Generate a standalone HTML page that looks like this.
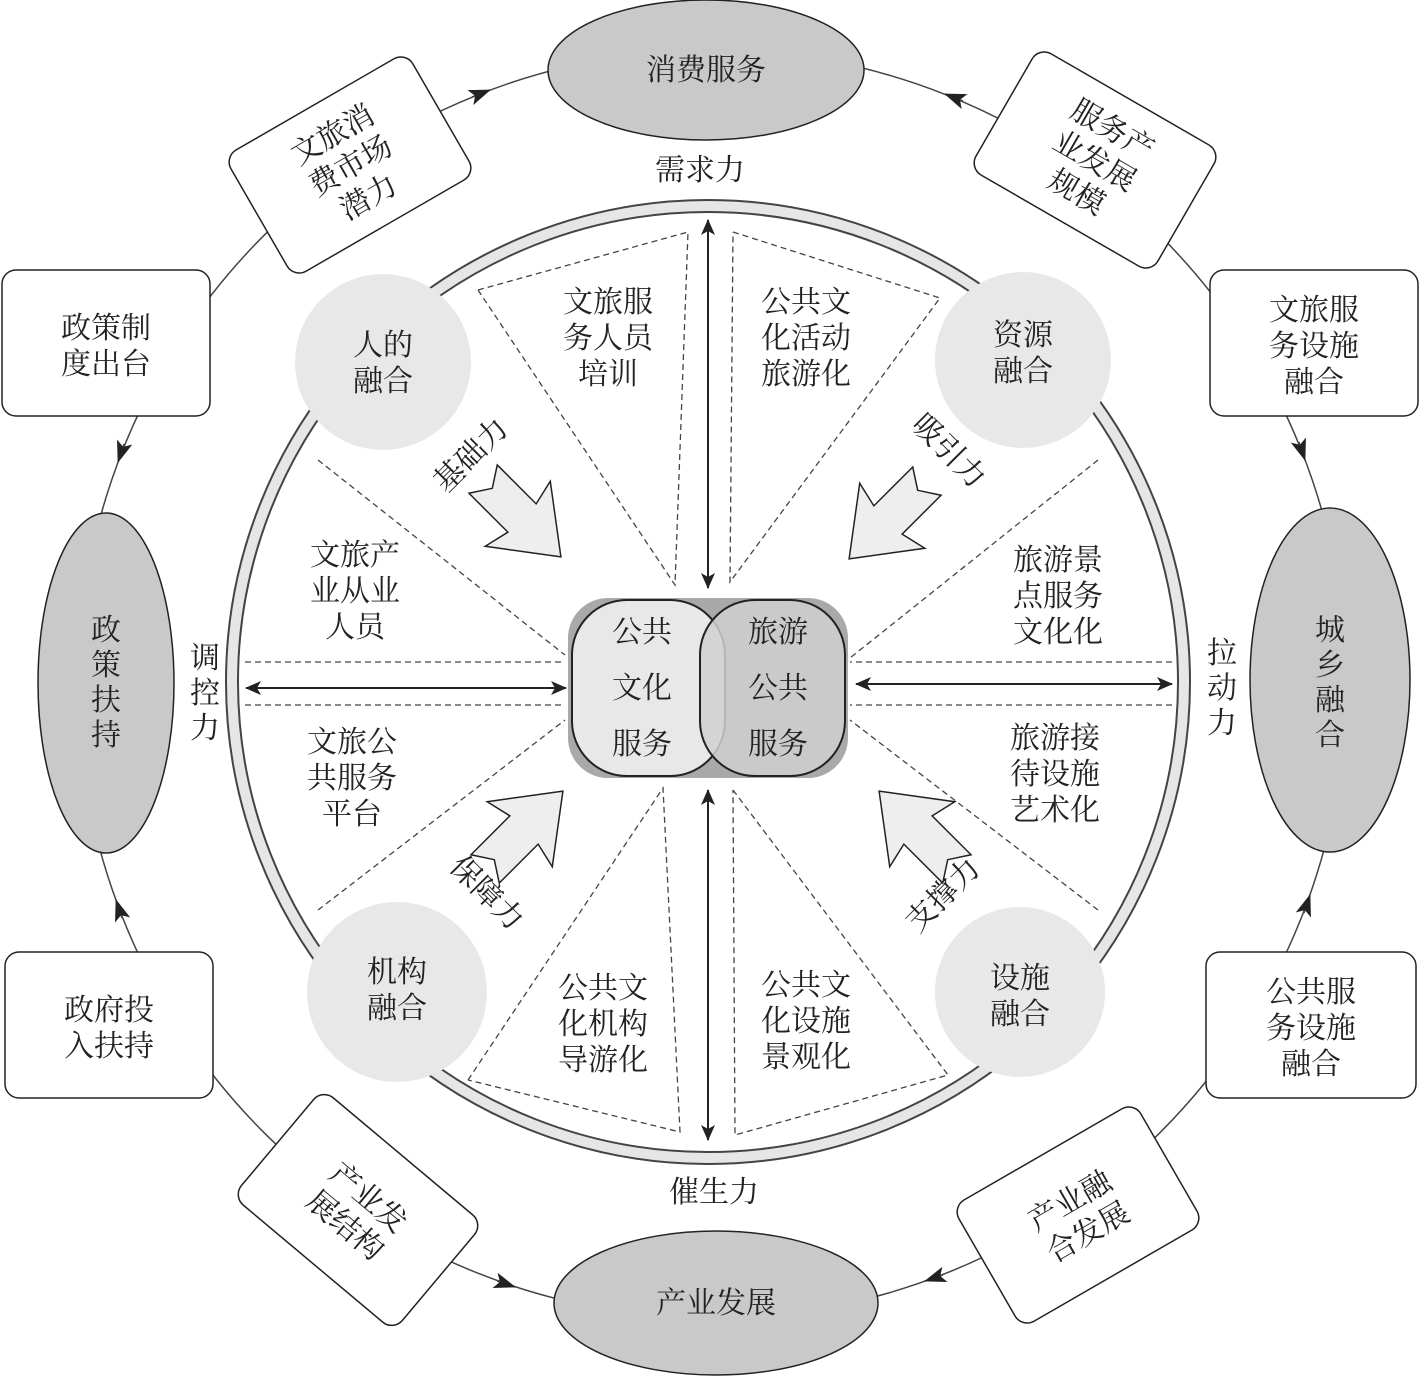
<!DOCTYPE html>
<html><head><meta charset="utf-8"><style>
html,body{margin:0;padding:0;background:#fff}
svg text{font-family:"Liberation Serif","Noto Serif CJK SC","Noto Sans CJK SC",serif;font-size:30px;fill:#222;text-anchor:middle}
</style></head><body>
<svg width="1420" height="1377" viewBox="0 0 1420 1377" xmlns="http://www.w3.org/2000/svg">
<defs>
<marker id="ah2" markerWidth="16" markerHeight="14" refX="15" refY="7" orient="auto" markerUnits="userSpaceOnUse"><path d="M0,0 L16,7 L0,14 L4,7 Z" fill="#222"/></marker>
<marker id="as2" markerWidth="16" markerHeight="14" refX="1" refY="7" orient="auto" markerUnits="userSpaceOnUse"><path d="M16,0 L0,7 L16,14 L12,7 Z" fill="#222"/></marker>
<marker id="ah3" markerWidth="22" markerHeight="16" refX="21" refY="8" orient="auto" markerUnits="userSpaceOnUse"><path d="M0,0 L22,8 L0,16 L5,8 Z" fill="#222"/></marker>
<g id="fat"><polygon points="-55,-20 0,-20 -6,-46 55,0 -6,46 0,20 -55,20 -42,0" fill="#eee" stroke="#222" stroke-width="1.5"/></g>
</defs>
<!-- outer ring line -->
<circle cx="712" cy="684" r="634" fill="none" stroke="#444" stroke-width="1.5"/>
<g stroke="#444" stroke-width="1.5" fill="none">
<path d="M472,97 L490,90" marker-end="url(#ah3)"/>
<path d="M963,101 L945,94" marker-end="url(#ah3)"/>
<path d="M124,444 L118,462" marker-end="url(#ah3)"/>
<path d="M1299,442 L1305,460" marker-end="url(#ah3)"/>
<path d="M122,918 L116,900" marker-end="url(#ah3)"/>
<path d="M1304,913 L1310,895" marker-end="url(#ah3)"/>
<path d="M497,1281 L515,1287" marker-end="url(#ah3)"/>
<path d="M943,1275 L925,1281" marker-end="url(#ah3)"/>
</g>
<!-- ellipses -->
<g fill="#c9c9c9" stroke="#222" stroke-width="1.5">
<ellipse cx="706" cy="70" rx="158" ry="70"/>
<ellipse cx="106" cy="683" rx="68" ry="170"/>
<ellipse cx="1330" cy="680" rx="80" ry="172"/>
<ellipse cx="716" cy="1303" rx="162" ry="72"/>
</g>
<text x="706" y="80">消费服务</text>
<text x="716" y="1313">产业发展</text>
<text x="106" y="640">政</text><text x="106" y="675">策</text><text x="106" y="710">扶</text><text x="106" y="745">持</text>
<text x="1330" y="640">城</text><text x="1330" y="675">乡</text><text x="1330" y="710">融</text><text x="1330" y="745">合</text>
<!-- boxes -->
<g fill="#fff" stroke="#222" stroke-width="1.5">
<rect x="2" y="270" width="208" height="146" rx="14"/>
<rect x="1210" y="270" width="208" height="146" rx="14"/>
<rect x="5" y="952" width="208" height="146" rx="14"/>
<rect x="1206" y="952" width="210" height="146" rx="14"/>
<rect x="-105" y="-70" width="210" height="140" rx="14" transform="translate(350,165) rotate(-30)"/>
<rect x="-105" y="-70" width="210" height="140" rx="14" transform="translate(1095,160) rotate(30)"/>
<rect x="-105" y="-70" width="210" height="140" rx="14" transform="translate(358,1210) rotate(40)"/>
<rect x="-105" y="-70" width="210" height="140" rx="14" transform="translate(1078,1215) rotate(-30)"/>
</g>
<text x="106" y="338">政策制</text><text x="106" y="374">度出台</text>
<text x="1314" y="320">文旅服</text><text x="1314" y="356">务设施</text><text x="1314" y="392">融合</text>
<text x="109" y="1020">政府投</text><text x="109" y="1056">入扶持</text>
<text x="1311" y="1002">公共服</text><text x="1311" y="1038">务设施</text><text x="1311" y="1074">融合</text>
<g transform="translate(350,165) rotate(-30)"><text x="0" y="-25">文旅消</text><text x="0" y="11">费市场</text><text x="0" y="47">潜力</text></g>
<g transform="translate(1095,160) rotate(30)"><text x="0" y="-25">服务产</text><text x="0" y="11">业发展</text><text x="0" y="47">规模</text></g>
<g transform="translate(358,1210) rotate(40)"><text x="0" y="-6">产业发</text><text x="0" y="30">展结构</text></g>
<g transform="translate(1078,1215) rotate(-30)"><text x="0" y="-6">产业融</text><text x="0" y="30">合发展</text></g>
<!-- inner ring -->
<circle cx="708" cy="682" r="482" fill="#e6e6e6" stroke="#444" stroke-width="2"/>
<circle cx="708" cy="682" r="470" fill="#fff" stroke="#444" stroke-width="2"/>
<!-- dashed -->
<g stroke="#444" stroke-width="1.3" stroke-dasharray="6,4" fill="none">
<polyline points="478,290 688,232 675,585 478,290"/>
<polyline points="733,232 940,298 730,582 733,232"/>
<line x1="318" y1="460" x2="565" y2="655"/><line x1="245" y1="662" x2="565" y2="662"/>
<line x1="245" y1="705" x2="565" y2="705"/><line x1="318" y1="910" x2="565" y2="720"/>
<line x1="1098" y1="460" x2="850" y2="658"/><line x1="1172" y1="662" x2="850" y2="662"/>
<line x1="1172" y1="705" x2="850" y2="705"/><line x1="1098" y1="910" x2="850" y2="720"/>
<polyline points="468,1080 663,788 680,1132 468,1080"/>
<polyline points="733,790 948,1075 735,1135 733,790"/>
</g>
<!-- small circles -->
<g fill="#e8e8e8" stroke="none">
<circle cx="383" cy="362" r="88"/><circle cx="1023" cy="360" r="88"/>
<circle cx="397" cy="992" r="90"/><circle cx="1020" cy="992" r="85"/>
</g>
<text x="383" y="355">人的</text><text x="383" y="391">融合</text>
<text x="1023" y="345">资源</text><text x="1023" y="381">融合</text>
<text x="397" y="982">机构</text><text x="397" y="1018">融合</text>
<text x="1020" y="988">设施</text><text x="1020" y="1024">融合</text>
<!-- triangle texts -->
<text x="608" y="312">文旅服</text><text x="608" y="348">务人员</text><text x="608" y="384">培训</text>
<text x="806" y="312">公共文</text><text x="806" y="348">化活动</text><text x="806" y="384">旅游化</text>
<text x="355" y="565">文旅产</text><text x="355" y="601">业从业</text><text x="355" y="637">人员</text>
<text x="352" y="752">文旅公</text><text x="352" y="788">共服务</text><text x="352" y="824">平台</text>
<text x="1058" y="570">旅游景</text><text x="1058" y="606">点服务</text><text x="1058" y="642">文化化</text>
<text x="1055" y="748">旅游接</text><text x="1055" y="784">待设施</text><text x="1055" y="820">艺术化</text>
<text x="603" y="998">公共文</text><text x="603" y="1034">化机构</text><text x="603" y="1070">导游化</text>
<text x="806" y="995">公共文</text><text x="806" y="1031">化设施</text><text x="806" y="1067">景观化</text>
<!-- force labels -->
<text x="700" y="180">需求力</text>
<text x="714" y="1202">催生力</text>
<text x="205" y="668">调</text><text x="205" y="703">控</text><text x="205" y="738">力</text>
<text x="1222" y="663">拉</text><text x="1222" y="698">动</text><text x="1222" y="733">力</text>
<text transform="translate(478,462) rotate(-45)">基础力</text>
<text transform="translate(942,458) rotate(45)">吸引力</text>
<text transform="translate(480,900) rotate(45)">保障力</text>
<text transform="translate(950,902) rotate(-45)">支撑力</text>
<!-- fat arrows -->
<use href="#fat" transform="translate(522,518) rotate(45)"/>
<use href="#fat" transform="translate(888,520) rotate(135)"/>
<use href="#fat" transform="translate(524,830) rotate(-45)"/>
<use href="#fat" transform="translate(918,830) rotate(-135)"/>
<!-- double arrows -->
<g stroke="#222" stroke-width="2">
<line x1="708" y1="220" x2="708" y2="588" marker-start="url(#as2)" marker-end="url(#ah2)"/>
<line x1="708" y1="790" x2="708" y2="1140" marker-start="url(#as2)" marker-end="url(#ah2)"/>
<line x1="246" y1="688" x2="566" y2="688" marker-start="url(#as2)" marker-end="url(#ah2)"/>
<line x1="856" y1="684" x2="1172" y2="684" marker-start="url(#as2)" marker-end="url(#ah2)"/>
</g>
<!-- center -->
<rect x="568" y="598" width="280" height="180" rx="40" fill="#a9a9a9"/>
<rect x="572" y="600" width="153" height="176" rx="55" fill="#e8e8e8" stroke="#222" stroke-width="2"/>
<rect x="700" y="600" width="145" height="176" rx="55" fill="#d0d0d0" stroke="#222" stroke-width="2" fill-opacity="0.85"/>
<text x="642" y="642">公共</text><text x="642" y="698">文化</text><text x="642" y="754">服务</text>
<text x="778" y="642">旅游</text><text x="778" y="698">公共</text><text x="778" y="754">服务</text>
</svg>
</body></html>
